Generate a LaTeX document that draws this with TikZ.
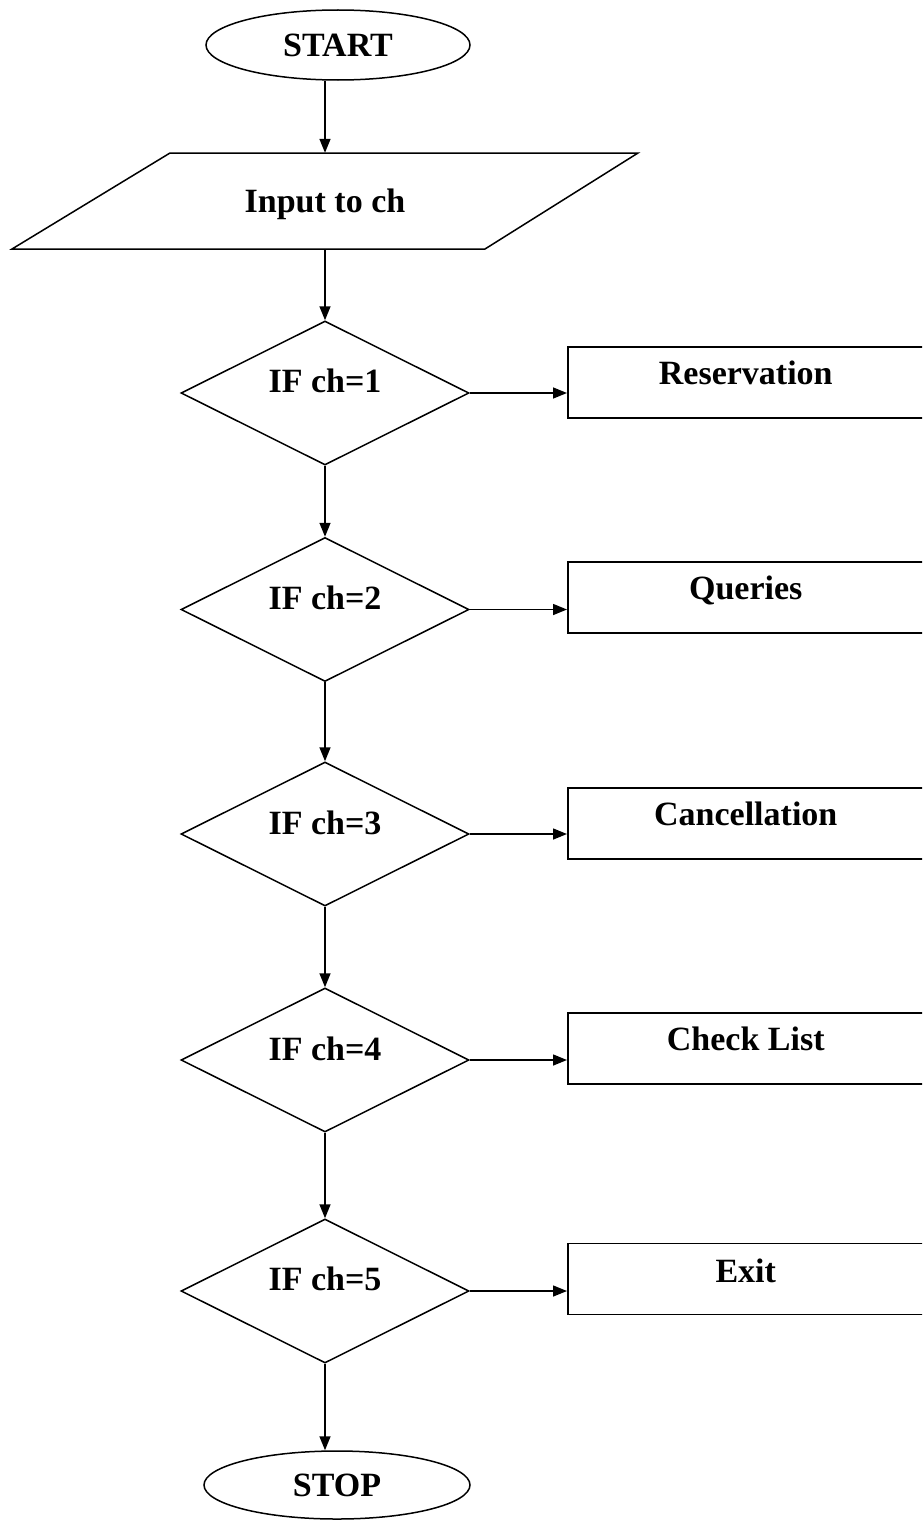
\documentclass[tikz,border=0pt]{standalone}
\usepackage{fontspec}
\setmainfont{Liberation Serif}
\usetikzlibrary{shapes.geometric,arrows.meta,calc}

\tikzset{
  flow/.style={line width=1.5pt, draw=black},
  arr/.style={flow, -{Triangle[length=14pt,width=11pt]}},
  terminal/.style={flow, ellipse, inner sep=0pt, fill=white,
    font=\bfseries\fontsize{34}{38}\selectfont},
  decision/.style={flow, diamond, inner sep=0pt, minimum width=288pt,
    minimum height=144pt, fill=white},
  process/.style={flow, rectangle, inner sep=0pt, minimum width=356pt,
    minimum height=71pt, anchor=west, fill=white},
  caption/.style={font=\bfseries\fontsize{34}{38}\selectfont,
    text height=22pt, text depth=0pt, inner sep=0pt}
}

\begin{document}
\begin{tikzpicture}[x=1pt, y=-1pt]
  \clip (0,0) rectangle (922,1520);
  \fill[white] (0,0) rectangle (922,1520);

  % start / input
  \node[terminal, minimum width=264pt, minimum height=70pt] (start) at (338,45) {START};
  \node[caption, minimum width=312pt, minimum height=96pt] (inp) at (325,201) {Input to ch};
  \draw[flow, shift={(inp.center)}]
    (-155,-48) -- (313,-48) -- (160,48) -- (-313,48) -- cycle;

  % decisions
  \node[decision, label={[caption, yshift=12pt]center:IF ch=1}] (d1) at (325,393) {};
  \node[decision, label={[caption, yshift=11pt]center:IF ch=2}] (d2) at (325,609.5) {};
  \node[decision, label={[caption, yshift=11pt]center:IF ch=3}] (d3) at (325,834) {};
  \node[decision, label={[caption, yshift=11pt]center:IF ch=4}] (d4) at (325,1060) {};
  \node[decision, label={[caption, yshift=12pt]center:IF ch=5}] (d5) at (325,1291) {};

  % actions
  \node[process, label={[caption, yshift=9pt]center:Reservation}] (r1) at (567,382.5) {};
  \node[process, label={[caption, yshift=9pt]center:Queries}] (r2) at (567,597.5) {};
  \node[process, label={[caption, yshift=9pt]center:Cancellation}] (r3) at (567,823.5) {};
  \node[process, label={[caption, yshift=9pt]center:Check List}] (r4) at (567,1048.5) {};
  \node[process, label={[caption, yshift=8pt]center:Exit}] (r5) at (567,1279) {};

  % stop
  \node[terminal, minimum width=266pt, minimum height=68pt] (stop) at (337,1485) {STOP};

  % main flow
  \draw[arr] (inp.north |- start.south) -- (inp.north);
  \draw[arr] (inp.south) -- (d1.north);
  \draw[arr] (d1.south) -- (d2.north);
  \draw[arr] (d2.south) -- (d3.north);
  \draw[arr] (d3.south) -- (d4.north);
  \draw[arr] (d4.south) -- (d5.north);
  \draw[arr] (d5.south) -- (d5.south |- stop.north);

  % branches
  \foreach \i in {1,...,5}
    \draw[arr] (d\i.east) -- (d\i.east -| r\i.west);
\end{tikzpicture}
\end{document}
